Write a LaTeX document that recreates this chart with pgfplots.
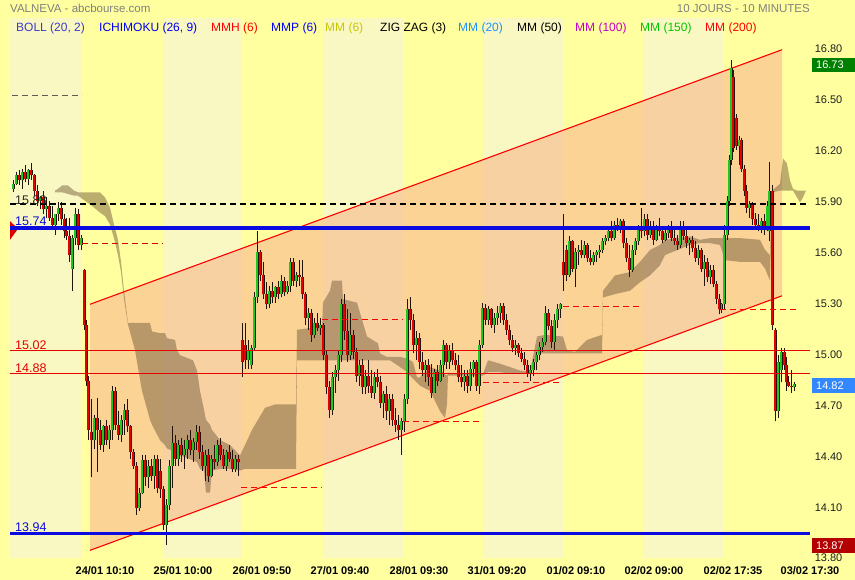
\documentclass[border=0pt]{standalone}
\usepackage{pgfplots}
\pgfplotsset{compat=1.18}
\usepackage{pgfplotstable}
\usepackage{fontspec}
\setmainfont{Liberation Sans}

\definecolor{bgyellow}{RGB}{255,255,160}
\definecolor{dayband}{RGB}{250,248,194}
\definecolor{channel}{RGB}{247,183,143}
\definecolor{kumo}{RGB}{120,95,60}
\definecolor{upc}{RGB}{30,200,30}
\definecolor{dnc}{RGB}{232,0,0}
\definecolor{wick}{RGB}{35,20,10}
\definecolor{supblue}{RGB}{10,10,225}
\definecolor{lvlred}{RGB}{230,0,0}
\definecolor{dashgray}{RGB}{100,90,80}
\definecolor{legboll}{RGB}{60,60,200}
\definecolor{legblue}{RGB}{0,0,245}
\definecolor{legolive}{RGB}{200,200,0}
\definecolor{legsky}{RGB}{30,144,255}
\definecolor{legmag}{RGB}{200,0,200}
\definecolor{leggreen}{RGB}{0,200,0}
\definecolor{titlegray}{RGB}{128,128,128}
\definecolor{ticktext}{RGB}{30,30,30}
\definecolor{boxgreen}{RGB}{0,128,0}
\definecolor{boxblue}{RGB}{51,136,255}
\definecolor{boxred}{RGB}{180,0,0}

\newcommand\fs[1]{\fontsize{#1}{#1}\selectfont}

% 10-minute candles: position, open, high, low, close
\pgfplotstableread{
x o h l c
13 15.97 16.02 15.95 16.00
16 16.00 16.07 15.99 16.05
19 16.05 16.08 15.99 16.02
22 16.02 16.09 15.97 16.07
25 16.07 16.11 16.01 16.03
28 16.03 16.09 15.99 16.08
31 16.08 16.12 16.02 16.05
34 16.05 16.06 15.93 15.96
37 15.96 15.99 15.87 15.90
40 15.90 15.93 15.85 15.92
43 15.92 15.96 15.82 15.85
46 15.85 15.92 15.80 15.87
49 15.87 15.90 15.78 15.80
52 15.80 15.87 15.73 15.76
55 15.76 15.82 15.70 15.82
58 15.82 15.89 15.78 15.86
61 15.86 15.89 15.76 15.79
64 15.79 15.82 15.68 15.72
66 15.72 15.80 15.67 15.69
69 15.69 15.80 15.54 15.58
72 15.50 15.70 15.37 15.68
75 15.68 15.86 15.64 15.82
78 15.82 15.85 15.61 15.64
81 15.64 15.70 15.61 15.68
84 15.49 15.50 15.14 15.17
86 15.17 15.20 14.81 14.84
88 14.84 14.87 14.49 14.55
91 14.54 14.73 14.27 14.49
94 14.49 14.64 14.44 14.62
97 14.62 14.74 14.30 14.55
100 14.55 14.61 14.43 14.46
103 14.46 14.58 14.42 14.57
106 14.57 14.61 14.46 14.49
109 14.49 14.58 14.44 14.55
112 14.55 14.81 14.49 14.78
115 14.78 14.80 14.55 14.58
118 14.58 14.66 14.49 14.52
121 14.52 14.64 14.48 14.61
124 14.61 14.70 14.52 14.67
127 14.67 14.73 14.54 14.57
130 14.57 14.58 14.38 14.42
133 14.42 14.44 14.32 14.34
136 14.34 14.36 14.05 14.09
139 14.09 14.21 14.07 14.18
142 14.18 14.40 14.17 14.37
145 14.37 14.40 14.22 14.27
148 14.27 14.37 14.21 14.34
151 14.34 14.38 14.25 14.28
154 14.28 14.40 14.20 14.38
157 14.38 14.40 14.18 14.21
160 14.31 14.38 14.15 14.20
163 14.20 14.22 13.96 13.99
166 13.99 14.14 13.87 14.11
169 14.11 14.37 14.08 14.34
172 14.34 14.57 14.21 14.47
175 14.47 14.52 14.34 14.38
178 14.38 14.49 14.34 14.46
181 14.46 14.50 14.36 14.40
184 14.40 14.49 14.32 14.44
187 14.44 14.52 14.38 14.49
190 14.49 14.55 14.40 14.43
193 14.43 14.50 14.36 14.48
196 14.48 14.58 14.43 14.54
199 14.54 14.57 14.38 14.42
202 14.42 14.46 14.31 14.34
205 14.34 14.43 14.25 14.40
208 14.40 14.44 14.24 14.28
211 14.28 14.40 14.27 14.38
214 14.38 14.46 14.32 14.36
217 14.36 14.49 14.34 14.46
220 14.46 14.50 14.37 14.40
223 14.40 14.44 14.32 14.34
226 14.34 14.43 14.31 14.42
229 14.42 14.46 14.36 14.38
232 14.38 14.43 14.30 14.32
235 14.32 14.40 14.30 14.38
238 14.38 14.40 14.28 14.36
242 15.08 15.18 14.86 14.95
245 15.05 15.18 14.91 14.96
248 14.96 15.08 14.91 15.02
251 14.93 15.05 14.91 15.03
254 15.03 15.36 15.02 15.33
257 15.33 15.72 15.30 15.60
260 15.60 15.61 15.43 15.46
263 15.46 15.54 15.32 15.35
266 15.35 15.42 15.26 15.29
269 15.29 15.40 15.27 15.37
272 15.37 15.42 15.30 15.33
275 15.33 15.40 15.30 15.39
278 15.39 15.43 15.32 15.35
281 15.35 15.46 15.33 15.43
284 15.43 15.45 15.34 15.36
287 15.36 15.43 15.35 15.40
290 15.40 15.56 15.36 15.54
293 15.54 15.56 15.40 15.43
296 15.43 15.48 15.39 15.46
299 15.46 15.55 15.40 15.45
302 15.45 15.55 15.32 15.35
305 15.35 15.36 15.17 15.21
308 15.21 15.27 15.14 15.24
311 15.24 15.26 15.07 15.11
314 15.11 15.21 15.09 15.18
317 15.18 15.24 15.13 15.15
320 15.15 15.21 15.11 15.17
323 15.17 15.18 14.96 14.99
326 14.99 15.02 14.76 14.80
329 14.80 14.84 14.62 14.67
332 14.67 14.89 14.64 14.86
335 14.86 14.93 14.77 14.90
338 14.90 15.02 14.84 14.99
341 14.99 15.32 14.95 15.29
344 15.29 15.35 15.08 15.13
347 15.13 15.26 14.95 14.99
350 14.99 15.24 14.96 15.11
353 15.11 15.14 14.97 15.01
356 15.01 15.03 14.83 14.87
359 14.87 14.96 14.81 14.93
362 14.93 14.97 14.76 14.80
365 14.80 14.90 14.76 14.87
368 14.87 14.96 14.77 14.81
371 14.81 14.90 14.74 14.77
374 14.77 14.89 14.73 14.86
377 14.86 14.91 14.80 14.83
380 14.83 14.87 14.68 14.71
383 14.71 14.78 14.62 14.76
386 14.76 14.81 14.61 14.66
389 14.66 14.76 14.58 14.73
392 14.73 14.76 14.57 14.61
395 14.61 14.68 14.54 14.58
398 14.58 14.64 14.49 14.55
401 14.55 14.62 14.40 14.60
404 14.60 14.76 14.54 14.73
407 14.73 15.32 14.70 15.26
410 15.26 15.33 15.14 15.20
413 15.20 15.23 15.00 15.05
416 15.05 15.13 14.96 15.09
419 15.09 15.12 14.91 14.95
422 14.95 15.01 14.87 14.90
425 14.90 14.96 14.83 14.93
428 14.93 14.97 14.81 14.86
431 14.86 14.94 14.74 14.77
434 14.77 14.91 14.77 14.89
437 14.89 14.93 14.81 14.84
440 14.84 14.96 14.83 14.93
443 14.93 15.08 14.86 15.05
446 15.05 15.06 14.91 14.95
449 14.95 15.05 14.91 15.02
452 15.02 15.06 14.93 14.96
455 14.96 15.00 14.90 14.93
458 14.93 14.99 14.83 14.86
461 14.86 14.93 14.80 14.83
464 14.83 14.90 14.78 14.87
467 14.87 14.90 14.77 14.81
470 14.81 14.95 14.78 14.91
473 14.91 14.96 14.86 14.95
476 14.95 14.96 14.78 14.81
479 14.81 15.08 14.76 15.05
482 15.05 15.30 15.03 15.27
485 15.27 15.29 15.17 15.20
488 15.20 15.28 15.17 15.26
491 15.26 15.27 15.15 15.17
494 15.17 15.24 15.12 15.21
497 15.21 15.28 15.17 15.24
500 15.24 15.30 15.18 15.28
503 15.28 15.30 15.17 15.20
506 15.20 15.23 15.11 15.14
509 15.14 15.17 15.05 15.08
512 15.08 15.11 15.01 15.03
515 15.03 15.08 14.99 15.05
518 15.05 15.06 14.98 15.00
521 15.00 15.03 14.95 14.97
524 14.97 15.01 14.90 14.93
527 14.93 14.96 14.86 14.88
530 14.88 14.93 14.84 14.90
533 14.90 14.97 14.87 14.95
536 14.95 15.01 14.90 14.99
539 14.99 15.07 14.96 15.04
542 15.04 15.09 15.01 15.07
545 15.07 15.28 15.05 15.24
548 15.24 15.26 15.14 15.16
551 15.16 15.20 15.03 15.07
554 15.07 15.23 15.02 15.20
557 15.20 15.29 15.15 15.26
560 15.26 15.30 15.21 15.29
563 15.54 15.82 15.37 15.46
566 15.61 15.64 15.43 15.46
569 15.46 15.69 15.45 15.66
572 15.66 15.67 15.48 15.50
575 15.50 15.62 15.39 15.60
578 15.60 15.64 15.52 15.61
581 15.61 15.67 15.56 15.58
584 15.58 15.66 15.56 15.64
587 15.64 15.65 15.54 15.56
590 15.56 15.61 15.52 15.54
593 15.54 15.60 15.52 15.58
596 15.58 15.61 15.54 15.60
599 15.60 15.64 15.56 15.61
602 15.61 15.68 15.59 15.66
605 15.66 15.70 15.64 15.68
608 15.68 15.74 15.66 15.72
611 15.72 15.78 15.66 15.68
614 15.68 15.78 15.67 15.76
617 15.76 15.80 15.72 15.74
620 15.74 15.79 15.71 15.78
623 15.78 15.79 15.62 15.65
626 15.65 15.68 15.54 15.56
629 15.56 15.64 15.45 15.49
632 15.49 15.64 15.48 15.61
635 15.61 15.68 15.58 15.66
638 15.66 15.76 15.64 15.74
641 15.74 15.86 15.68 15.72
644 15.72 15.82 15.69 15.79
647 15.79 15.82 15.67 15.70
650 15.70 15.78 15.68 15.75
653 15.75 15.78 15.64 15.67
656 15.67 15.76 15.66 15.74
659 15.74 15.80 15.69 15.72
662 15.72 15.75 15.65 15.67
665 15.67 15.73 15.66 15.71
668 15.71 15.76 15.68 15.74
671 15.74 15.78 15.66 15.68
674 15.68 15.73 15.64 15.66
677 15.66 15.70 15.61 15.64
680 15.64 15.78 15.62 15.74
683 15.74 15.78 15.67 15.69
686 15.69 15.73 15.62 15.65
689 15.65 15.68 15.58 15.67
692 15.67 15.69 15.60 15.62
695 15.62 15.66 15.54 15.56
698 15.56 15.64 15.52 15.61
701 15.61 15.62 15.48 15.50
704 15.50 15.58 15.40 15.54
707 15.54 15.56 15.42 15.45
710 15.45 15.52 15.41 15.49
713 15.49 15.52 15.39 15.41
716 15.41 15.43 15.29 15.32
719 15.32 15.35 15.23 15.26
721 15.26 15.30 15.24 15.29
724 15.29 15.76 15.26 15.70
727 15.70 15.93 15.67 15.90
729 15.90 16.17 15.87 16.14
731 16.14 16.73 16.11 16.68
733 16.63 16.67 16.19 16.21
736 16.39 16.41 16.20 16.22
739 16.22 16.28 16.11 16.26
741 16.26 16.27 16.07 16.09
744 16.09 16.11 15.93 15.96
746 15.96 15.99 15.83 15.86
749 15.86 15.90 15.80 15.88
752 15.88 15.89 15.76 15.79
755 15.79 15.83 15.74 15.76
758 15.76 15.82 15.72 15.74
761 15.74 15.80 15.71 15.78
764 15.78 15.82 15.70 15.73
767 15.73 15.90 15.72 15.87
769 15.72 16.13 15.66 15.96
772 15.96 15.99 15.14 15.17
775 15.14 15.15 14.60 14.66
778 14.66 14.99 14.62 14.95
781 14.90 15.03 14.83 15.01
784 15.01 15.03 14.90 14.93
786 14.93 14.98 14.78 14.83
788 14.83 14.87 14.80 14.81
791 14.81 14.90 14.77 14.80
794 14.80 14.83 14.78 14.82
}\candles

% Ichimoku cloud outline: leading span A left to right, then span B back
\pgfplotstableread{
x y
55 15.96
58 15.97
62 15.99
68 15.99
74 15.96
78 15.95
85 15.95
92 15.95
100 15.95
105 15.92
110 15.86
114 15.76
118 15.67
121 15.54
124 15.37
128 15.18
135 15.18
142 15.18
150 15.18
152 15.13
160 15.12
165 15.12
167 15.09
175 15.08
177 15.02
180 14.99
193 14.96
197 14.90
200 14.78
204 14.67
206 14.61
210 14.58
212 14.55
220 14.49
230 14.46
240 14.40
245 14.46
252 14.55
258 14.61
265 14.68
275 14.70
285 14.70
296 14.70
297 15.14
310 15.15
322 15.15
323 15.30
330 15.37
332 15.43
342 15.43
343 15.32
357 15.30
360 15.24
363 15.18
367 15.10
378 15.06
380 15.00
387 14.98
400 14.98
407 14.97
413 14.95
417 14.86
420 14.86
430 14.92
440 14.90
447 14.87
448 14.88
470 14.88
483 14.88
488 14.96
500 14.94
510 14.92
520 14.90
530 14.89
537 15.10
545 15.11
563 15.10
567 15.02
575 15.01
587 15.08
602 15.11
603 15.37
615 15.46
630 15.48
640 15.54
650 15.61
660 15.64
665 15.67
690 15.69
700 15.67
710 15.68
720 15.68
725 15.68
740 15.68
760 15.67
765 15.61
770 15.58
772 15.96
780 16.00
783 16.15
787 16.12
790 16.02
793 15.97
797 15.96
800 15.96
803 15.96
806 15.96
806 15.96
803 15.92
800 15.89
797 15.92
793 15.96
790 15.96
787 15.96
783 15.96
780 15.96
772 15.95
770 15.43
765 15.50
760 15.54
740 15.54
725 15.55
720 15.64
710 15.65
700 15.65
690 15.64
665 15.58
660 15.52
650 15.46
640 15.42
630 15.37
615 15.35
603 15.33
602 15.00
587 15.00
575 15.00
567 15.00
563 15.00
545 15.00
537 15.00
530 14.88
520 14.88
510 14.88
500 14.89
488 14.89
483 14.87
470 14.87
448 14.87
447 14.70
445 14.62
440 14.66
430 14.78
420 14.81
415 14.84
405 14.90
390 14.96
343 14.96
330 14.96
310 14.96
297 14.96
296 14.32
285 14.32
275 14.32
265 14.32
258 14.32
252 14.32
245 14.32
240 14.31
230 14.32
220 14.32
212 14.31
210 14.18
206 14.18
204 14.31
200 14.32
197 14.36
193 14.37
180 14.40
177 14.41
175 14.42
167 14.44
165 14.46
160 14.49
152 14.58
150 14.61
142 14.78
135 15.02
128 15.17
124 15.32
121 15.48
118 15.58
114 15.68
110 15.76
105 15.81
100 15.83
92 15.87
85 15.90
78 15.93
74 15.93
68 15.94
62 15.95
58 15.95
55 15.95
}\kumotable

\pgfplotsset{
  rising/.style={restrict expr to domain={\thisrow{c}-\thisrow{o}}{0:10}},
  falling/.style={restrict expr to domain={\thisrow{c}-\thisrow{o}}{-10:-0.001}},
}

\begin{document}
\begin{tikzpicture}
\fill[bgyellow] (-10pt,-22pt) rectangle (845pt,558pt);

\begin{axis}[
  at={(0pt,0pt)}, anchor=south west,
  scale only axis, width=800pt, height=540pt,
  xmin=10, xmax=810, ymin=13.795, ymax=16.977,
  clip=false,
  axis line style={draw=none},
  tick style={draw=none},
  major tick length=0pt,
  ytick={13.8,14.1,14.4,14.7,15.0,15.3,15.6,15.9,16.2,16.5,16.8},
  yticklabels={13.80,14.10,14.40,14.70,15.00,15.30,15.60,15.90,16.20,16.50,16.80},
  yticklabel pos=right,
  yticklabel style={anchor=west, xshift=1.3pt, yshift=-1pt, font=\fs{11}, text=ticktext},
  xtick={105,183,262,340,419,497,576,654,733,810},
  xticklabels={24/01 10:10,25/01 10:00,26/01 09:50,27/01 09:40,28/01 09:30,31/01 09:20,01/02 09:10,02/02 09:00,02/02 17:35,03/02 17:30},
  xticklabel style={anchor=base, yshift=-16.3pt, font=\fs{11}\bfseries, text=black},
]
% alternate trading days
\fill[dayband] (axis cs:10,13.795) rectangle (axis cs:82,16.977);
\fill[dayband] (axis cs:163,13.795) rectangle (axis cs:242,16.977);
\fill[dayband] (axis cs:323,13.795) rectangle (axis cs:403,16.977);
\fill[dayband] (axis cs:483,13.795) rectangle (axis cs:563,16.977);
\fill[dayband] (axis cs:643,13.795) rectangle (axis cs:723,16.977);

% rising channel
\addplot[draw=none, fill=channel, fill opacity=0.6, forget plot]
  coordinates {(90,15.29) (782,16.79) (782,15.34) (90,13.84)} -- cycle;

% Ichimoku cloud
\addplot[draw=none, fill=kumo, fill opacity=0.5, forget plot] table[x=x, y=y]{\kumotable} -- cycle;

% channel borders
\addplot[red, line width=1.1pt, forget plot] coordinates {(90,15.29) (782,16.79)};
\addplot[red, line width=1.1pt, forget plot] coordinates {(90,13.84) (782,15.34)};

% candles: wicks
\addplot[draw=none, mark=none, forget plot,
  error bars/.cd, y dir=plus, y explicit, error mark=none,
  error bar style={solid, line width=0.9pt, draw=wick}]
  table[x=x, y=l, y error expr={\thisrow{h}-\thisrow{l}}]{\candles};
% rising bodies
\addplot[draw=none, mark=none, forget plot, rising,
  error bars/.cd, y dir=plus, y explicit, error mark=none,
  error bar style={solid, line width=3pt, draw=wick}]
  table[x=x, y expr={min(\thisrow{o},\thisrow{c})}, y error expr={max(abs(\thisrow{c}-\thisrow{o}),0.006)}]{\candles};
\addplot[draw=none, mark=none, forget plot, rising,
  error bars/.cd, y dir=plus, y explicit, error mark=none,
  error bar style={solid, line width=1.8pt, draw=upc}]
  table[x=x, y expr={min(\thisrow{o},\thisrow{c})}, y error expr={max(abs(\thisrow{c}-\thisrow{o}),0.006)}]{\candles};
% falling bodies
\addplot[draw=none, mark=none, forget plot, falling,
  error bars/.cd, y dir=plus, y explicit, error mark=none,
  error bar style={solid, line width=3pt, draw=wick}]
  table[x=x, y expr={min(\thisrow{o},\thisrow{c})}, y error expr={max(abs(\thisrow{c}-\thisrow{o}),0.006)}]{\candles};
\addplot[draw=none, mark=none, forget plot, falling,
  error bars/.cd, y dir=plus, y explicit, error mark=none,
  error bar style={solid, line width=1.8pt, draw=dnc}]
  table[x=x, y expr={min(\thisrow{o},\thisrow{c})}, y error expr={max(abs(\thisrow{c}-\thisrow{o}),0.006)}]{\candles};

% short dashed daily levels
\addplot[dashgray, line width=0.9pt, dash pattern=on 6pt off 4pt, forget plot] coordinates {(12,16.52) (82,16.52)};
\addplot[red!85!black, line width=0.9pt, dash pattern=on 6pt off 4pt, forget plot] coordinates {(82,15.65) (163,15.65)};
\addplot[red, line width=0.9pt, dash pattern=on 6pt off 4pt, forget plot] coordinates {(241,14.21) (322,14.21)};
\addplot[red, line width=0.9pt, dash pattern=on 6pt off 4pt, forget plot] coordinates {(322,15.20) (403,15.20)};
\addplot[red, line width=0.9pt, dash pattern=on 6pt off 4pt, forget plot] coordinates {(403,14.60) (483,14.60)};
\addplot[red, line width=0.9pt, dash pattern=on 6pt off 4pt, forget plot] coordinates {(483,14.83) (563,14.83)};
\addplot[red, line width=0.9pt, dash pattern=on 6pt off 4pt, forget plot] coordinates {(563,15.28) (643,15.28)};
\addplot[red, line width=0.9pt, dash pattern=on 6pt off 4pt, forget plot] coordinates {(720,15.26) (796,15.26)};

% horizontal levels
\addplot[lvlred, line width=1pt, forget plot] coordinates {(10,15.02) (810,15.02)};
\addplot[lvlred, line width=1pt, forget plot] coordinates {(10,14.88) (810,14.88)};
\addplot[black, line width=2pt, dash pattern=on 6pt off 4pt, forget plot] coordinates {(10,15.88) (808,15.88)};
\fill[red!85!black] (axis cs:10,15.78) -- (axis cs:18,15.735) -- (axis cs:10,15.67) -- cycle;
\addplot[supblue, line width=3.6pt, forget plot] coordinates {(10,15.74) (810,15.74)};
\addplot[supblue, line width=3.6pt, forget plot] coordinates {(10,13.94) (810,13.94)};

% level labels
\node[anchor=base west, inner sep=0, font=\fs{12.5}, text=black!85] at (axis cs:15,15.88) {15.88};
\node[anchor=base west, inner sep=0, font=\fs{12.5}, text=supblue, yshift=2pt] at (axis cs:15,15.74) {15.74};
\node[anchor=base west, inner sep=0, font=\fs{12.5}, text=lvlred, yshift=1pt] at (axis cs:15,15.02) {15.02};
\node[anchor=base west, inner sep=0, font=\fs{12.5}, text=lvlred, yshift=1.5pt] at (axis cs:15,14.88) {14.88};
\node[anchor=base west, inner sep=0, font=\fs{12.5}, text=supblue, yshift=2pt] at (axis cs:15,13.94) {13.94};
\end{axis}

% header
\node[anchor=base west, inner sep=0, font=\fs{11.5}, text=titlegray] at (0pt,545.7pt) {VALNEVA - abcbourse.com};
\node[anchor=base east, inner sep=0, font=\fs{11.5}, text=titlegray] at (800pt,545.7pt) {10 JOURS - 10 MINUTES};

% indicator list
\begin{scope}[every node/.style={anchor=base west, inner sep=0, font=\fs{12}}]
\node[text=legboll] at (6pt,526.3pt) {BOLL (20, 2)};
\node[text=legblue] at (89pt,526.3pt) {ICHIMOKU (26, 9)};
\node[text=red] at (201pt,526.3pt) {MMH (6)};
\node[text=legblue] at (261pt,526.3pt) {MMP (6)};
\node[text=legolive] at (315pt,526.3pt) {MM (6)};
\node[text=black] at (370pt,526.3pt) {ZIG ZAG (3)};
\node[text=legsky] at (448pt,526.3pt) {MM (20)};
\node[text=black] at (507pt,526.3pt) {MM (50)};
\node[text=legmag] at (565pt,526.3pt) {MM (100)};
\node[text=leggreen] at (630pt,526.3pt) {MM (150)};
\node[text=red] at (695pt,526.3pt) {MM (200)};
\end{scope}

% price tags on the right
\fill[boxgreen] (802pt,486pt) rectangle (845pt,500pt);
\node[anchor=base west, inner sep=0, font=\fs{11}, text=white] at (806pt,489pt) {16.73};
\fill[boxblue] (802pt,165pt) rectangle (845pt,180pt);
\node[anchor=base west, inner sep=0, font=\fs{11}, text=white] at (806pt,168.5pt) {14.82};
\fill[boxred] (802pt,5pt) rectangle (845pt,20pt);
\node[anchor=base west, inner sep=0, font=\fs{11}, text=white] at (806pt,8.5pt) {13.87};

\pgfresetboundingbox
\path[use as bounding box] (-10pt,-22pt) rectangle (845pt,558pt);
\end{tikzpicture}
\end{document}
